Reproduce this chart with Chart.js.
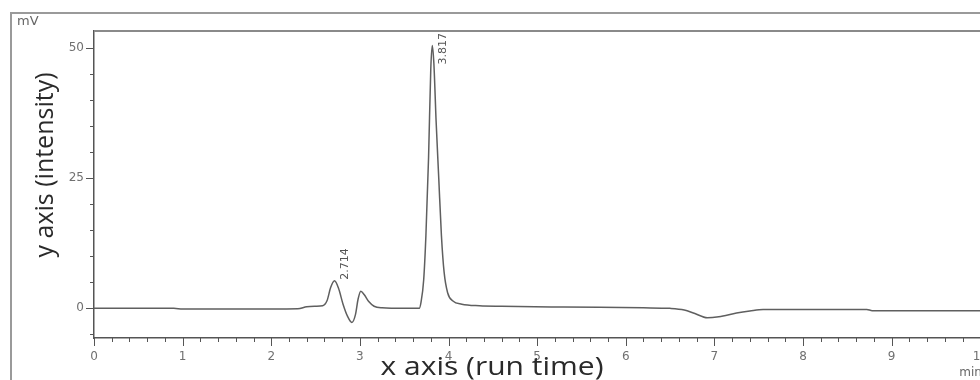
<!DOCTYPE html>
<html>
<head>
<meta charset="utf-8">
<script src="https://cdn.jsdelivr.net/npm/chart.js@4.4.1/dist/chart.umd.min.js"></script>
<style>
  html, body { margin: 0; padding: 0; background: #fff; overflow: hidden; }
  #wrap { position: relative; width: 1010px; height: 380px; }
</style>
</head>
<body>
<div id="wrap"><canvas id="chromChart" width="1010" height="380"></canvas></div>
<script>
// run time (min) and detector signal (mV)
var runTime = [0, 0.9, 1.0, 2.0, 2.3, 2.4, 2.5, 2.58, 2.63, 2.67, 2.714, 2.76, 2.81, 2.86, 2.91, 2.95, 2.98, 3.01, 3.05, 3.1, 3.16, 3.25, 3.5, 3.67,
               3.69, 3.72, 3.745, 3.775, 3.80, 3.817, 3.835, 3.86, 3.89, 3.92, 3.95, 3.99, 4.05, 4.15, 4.35, 4.6, 5.3, 6.2, 6.5, 6.66,
               6.78, 6.92, 7.05, 7.25, 7.4, 7.55, 8.0, 8.72, 8.78, 10.29];
var intensity = [0, 0, -0.15, -0.15, -0.1, 0.3, 0.4, 0.5, 1.5, 4, 5.3, 3.8, 0.8, -1.5, -2.7, -1.2, 1.8, 3.3, 2.6, 1.3, 0.4, 0.1, 0, 0,
                 1.2, 5.5, 14, 29, 46, 50.5, 47, 36, 25, 14, 7, 3, 1.4, 0.8, 0.5, 0.4, 0.25, 0.1, 0, -0.3,
                 -1.0, -1.8, -1.6, -0.9, -0.5, -0.2, -0.2, -0.2, -0.45, -0.45];

// integrated peaks
var peakTimes = [2.714, 3.817];
var peakHeights = [5.3, 50.5];
var peakLabels = ["2.714", "3.817"];

// labelled ticks
var xTickLabels = [0, 1, 2, 3, 4, 5, 6, 7, 8, 9, 10];
var yTickLabels = [0, 25, 50];

function isNear(v, list) {
  for (var i = 0; i < list.length; i++) {
    if (Math.abs(v - list[i]) < 1e-6) return true;
  }
  return false;
}

// frame, tick marks, axis titles and peak labels
var decorations = {
  id: 'decorations',
  afterDraw: function(chart) {
    var ctx = chart.ctx;
    var area = chart.chartArea;
    var xs = chart.scales.x;
    var ys = chart.scales.y;
    ctx.save();

    // outer frame
    ctx.strokeStyle = '#9a9a9a';
    ctx.lineWidth = 2;
    ctx.beginPath();
    ctx.moveTo(11, 380);
    ctx.lineTo(11, 13);
    ctx.lineTo(1010, 13);
    ctx.stroke();

    // plot box top
    ctx.strokeStyle = '#8a8a8a';
    ctx.lineWidth = 2;
    ctx.beginPath();
    ctx.moveTo(area.left, area.top);
    ctx.lineTo(area.right, area.top);
    ctx.stroke();

    // tick marks
    ctx.strokeStyle = '#555';
    ctx.lineWidth = 1;
    ys.ticks.forEach(function(t) {
      var py = Math.round(ys.getPixelForValue(t.value)) + 0.5;
      var len = isNear(t.value, yTickLabels) ? 8 : 4;
      ctx.beginPath();
      ctx.moveTo(area.left, py);
      ctx.lineTo(area.left - len, py);
      ctx.stroke();
    });
    xs.ticks.forEach(function(t) {
      var px = Math.round(xs.getPixelForValue(t.value)) + 0.5;
      var len = isNear(t.value, xTickLabels) ? 8 : 4;
      ctx.beginPath();
      ctx.moveTo(px, area.bottom);
      ctx.lineTo(px, area.bottom + len);
      ctx.stroke();
    });

    // units
    ctx.fillStyle = '#666';
    ctx.font = '13px "DejaVu Sans", sans-serif';
    ctx.textBaseline = 'middle';
    ctx.textAlign = 'left';
    ctx.fillText('mV', 17, 22);
    ctx.font = '12px "DejaVu Sans", sans-serif';
    ctx.fillText('min', xs.getPixelForValue(10) - 21, 373);

    // peak labels, rotated, kept inside the plot box
    ctx.fillStyle = '#555';
    ctx.font = '11px "DejaVu Sans", sans-serif';
    peakTimes.forEach(function(t, i) {
      var px = xs.getPixelForValue(t) + 11;
      var w = ctx.measureText(peakLabels[i]).width;
      var py = ys.getPixelForValue(peakHeights[i]) - 1;
      if (py - w < area.top + 2) py = area.top + 2 + w;
      ctx.save();
      ctx.translate(px, py);
      ctx.rotate(-Math.PI / 2);
      ctx.textAlign = 'left';
      ctx.textBaseline = 'middle';
      ctx.fillText(peakLabels[i], 0, 0);
      ctx.restore();
    });

    // axis titles
    ctx.fillStyle = '#2a2a2a';
    ctx.font = '25px "Open Sans", sans-serif';
    ctx.textAlign = 'center';
    ctx.textBaseline = 'middle';
    ctx.save();
    ctx.translate(492, 368);
    ctx.scale(1.2, 1);
    ctx.fillText('x axis (run time)', 0, 0);
    ctx.restore();
    ctx.save();
    ctx.translate(46, 165);
    ctx.rotate(-Math.PI / 2);
    ctx.fillText('y axis (intensity)', 0, 0);
    ctx.restore();

    ctx.restore();
  }
};

var canvas = document.getElementById('chromChart').getContext('2d');

var chromChart = new Chart(canvas, {
  type: 'line',
  data: {
    datasets: [{
      label: 'signal',
      data: runTime.map(function(t, i) { return { x: t, y: intensity[i] }; }),
      borderColor: '#5f5f5f',
      borderWidth: 1.5,
      pointRadius: 0,
      fill: false,
      cubicInterpolationMode: 'monotone'
    }]
  },
  options: {
    responsive: false,
    animation: false,
    layout: { padding: { top: 31, left: 0, right: 0, bottom: 0 } },
    plugins: {
      legend: { display: false },
      tooltip: { enabled: false }
    },
    scales: {
      x: {
        type: 'linear',
        min: 0,
        max: 10.29,
        afterFit: function(s) { s.height = 42; },
        grid: { display: false, drawTicks: false },
        border: { display: true, color: '#555', width: 1.5 },
        ticks: {
          stepSize: 0.2,
          autoSkip: false,
          includeBounds: false,
          maxRotation: 0,
          padding: 12,
          color: '#707070',
          font: { family: '"DejaVu Sans", sans-serif', size: 12 },
          callback: function(v) { return isNear(v, xTickLabels) ? String(Math.round(v)) : ''; }
        }
      },
      y: {
        min: -5.7,
        max: 53.3,
        afterFit: function(s) { s.width = 94; },
        grid: { display: false, drawTicks: false },
        border: { display: true, color: '#555', width: 1.5 },
        ticks: {
          stepSize: 5,
          autoSkip: false,
          includeBounds: false,
          padding: 10,
          color: '#707070',
          font: { family: '"DejaVu Sans", sans-serif', size: 12 },
          callback: function(v) { return isNear(v, yTickLabels) ? String(Math.round(v)) : ''; }
        }
      }
    }
  },
  plugins: [decorations]
});
</script>
</body>
</html>
